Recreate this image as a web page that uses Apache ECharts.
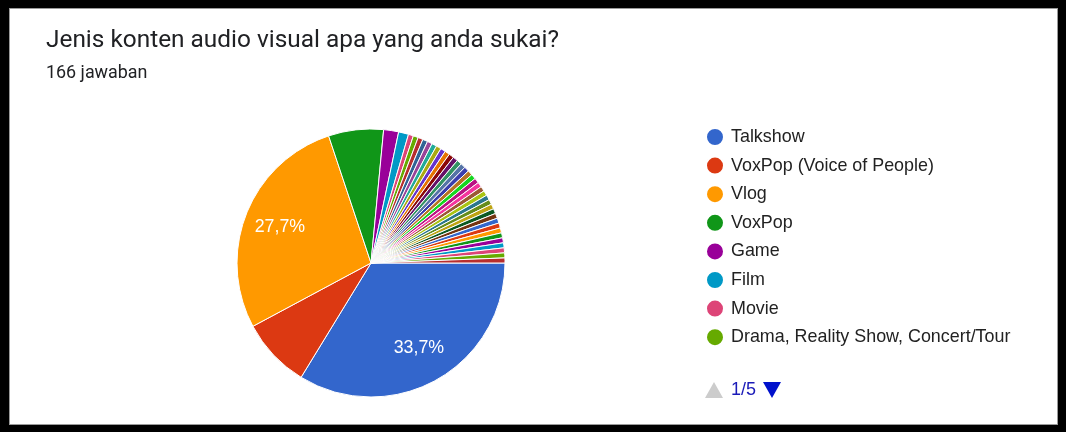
<!DOCTYPE html>
<html>
<head>
<meta charset="utf-8">
<title>Jenis konten audio visual</title>
<script src="https://cdn.jsdelivr.net/npm/echarts@6/dist/echarts.min.js"></script>
<style>
  html, body { margin: 0; padding: 0; background: #fff; }
  #chart { position: absolute; left: 0; top: 0; width: 1066px; height: 432px; }
  #frame {
    position: absolute; left: 0; top: 0; width: 1066px; height: 432px;
    box-sizing: border-box; pointer-events: none;
    border-style: solid; border-color: #000;
    border-width: 8px 8px 7px 9px;
    box-shadow: inset 0 0 0 1px #9a9a9a;
  }
</style>
</head>
<body>
<div id="chart"></div>
<div id="frame"></div>
<script>
// Survey question and answer count
const questionTitle = 'Jenis konten audio visual apa yang anda sukai?';
const answerCount = '166 jawaban';

// Answer options, in form order
const categories = [
  'Talkshow', 'VoxPop (Voice of People)', 'Vlog', 'VoxPop', 'Game', 'Film', 'Movie',
  'Drama, Reality Show, Concert/Tour',
  'Podcast', 'Musik', 'Tutorial', 'Dokumenter', 'Animasi', 'Berita', 'Kuliner', 'Travel',
  'Komedi', 'Review Produk', 'Edukasi', 'Olahraga', 'Sinetron', 'Anime', 'Drama Korea', 'Horor',
  'Prank', 'Mukbang', 'Beauty', 'Fashion', 'Live Streaming', 'Cover Lagu', 'Short Film', 'Web Series',
  'Stand Up Comedy', 'Unboxing', 'Sains', 'Otomotif', 'Sejarah', 'Kajian', 'Reaction', 'Lainnya'
];

// Number of respondents choosing each option
const responses = [
  56, 14, 46, 11, 3, 2, 1, 1,
  1, 1, 1, 1, 1, 1, 1, 1,
  1, 1, 1, 1, 1, 1, 1, 1,
  1, 1, 1, 1, 1, 1, 1, 1,
  1, 1, 1, 1, 1, 1, 1, 1
];

// Slice palette (cycles when there are more answers than colours)
const palette = [
  '#3366cc', '#dc3912', '#ff9900', '#109618', '#990099', '#0099c6', '#dd4477', '#66aa00',
  '#b82e2e', '#316395', '#994499', '#22aa99', '#aaaa11', '#6633cc', '#e67300', '#8b0707',
  '#651067', '#329262', '#5574a6', '#3b3eac', '#b77322', '#16d620', '#b91383', '#f4359e',
  '#9c5935', '#a9c413', '#2a778d', '#668d1c', '#bea413', '#0c5922', '#743411'
];

const perPage = 8;
const pageCount = Math.ceil(categories.length / perPage);
let page = 0;

const total = responses.reduce((a, b) => a + b, 0);
const pieData = categories.map((name, i) => ({ name: name, value: responses[i] }));

const center = [371, 263];
const radius = 134;
const labelFont = 'Liberation Sans, Arial, sans-serif';

function pagerGraphic() {
  const upActive = page > 0;
  const downActive = page < pageCount - 1;
  return [{
    id: 'pager', type: 'group', left: 705, top: 381,
    children: [
      {
        id: 'pgUp', type: 'polygon',
        shape: { points: [[0, 16], [18, 16], [9, 0]] },
        style: { fill: upActive ? '#0011cc' : '#cccccc' },
        onclick: () => { if (page > 0) { page--; refreshLegend(); } }
      },
      {
        id: 'pgText', type: 'text', x: 26, y: 8,
        style: {
          text: (page + 1) + '/' + pageCount, fill: '#1a1ab8',
          font: '18px ' + labelFont, verticalAlign: 'middle'
        }
      },
      {
        id: 'pgDown', type: 'polygon',
        shape: { points: [[58, 0], [76, 0], [67, 16]] },
        style: { fill: downActive ? '#0011cc' : '#cccccc' },
        onclick: () => { if (page < pageCount - 1) { page++; refreshLegend(); } }
      }
    ]
  }];
}

const chart = echarts.init(document.getElementById('chart'), null, { renderer: 'canvas' });

function refreshLegend() {
  chart.setOption({
    legend: { data: categories.slice(page * perPage, page * perPage + perPage) },
    graphic: pagerGraphic()
  });
}

chart.setOption({
  animation: false,
  backgroundColor: '#ffffff',
  color: palette,
  title: [
    {
      text: questionTitle, left: 41, top: 24,
      textStyle: { fontFamily: 'Roboto', fontSize: 24.4, fontWeight: 'normal', color: '#202124' }
    },
    {
      text: answerCount, left: 41, top: 60,
      textStyle: { fontFamily: 'Roboto', fontSize: 17.9, fontWeight: 'normal', color: '#202124' }
    }
  ],
  tooltip: { trigger: 'item', formatter: p => p.name + ': ' + p.value + ' (' + (p.value / total * 100).toFixed(1).replace('.', ',') + '%)' },
  legend: {
    type: 'plain', orient: 'vertical', left: 705, top: 127, padding: 0,
    icon: 'circle', itemWidth: 18, itemHeight: 18, itemGap: 8.6,
    data: categories.slice(0, perPage),
    textStyle: { fontFamily: labelFont, fontSize: 17.9, color: '#222222', padding: [0, 0, 0, 2] }
  },
  graphic: pagerGraphic(),
  series: [
    {
      name: 'Jawaban', type: 'pie',
      center: center, radius: [0, radius],
      startAngle: 0, clockwise: true,
      data: pieData,
      label: { show: false }, labelLine: { show: false },
      itemStyle: { borderColor: '#ffffff', borderWidth: 1 },
      emphasis: { scale: false }
    },
    {
      // Percentage labels for the larger slices, placed partway out along each slice
      name: 'Persentase', type: 'pie', silent: true, z: 5,
      center: center, radius: [56, radius],
      startAngle: 0, clockwise: true,
      data: pieData,
      itemStyle: { color: 'rgba(0,0,0,0)', borderWidth: 0 },
      label: {
        show: true, position: 'inside',
        color: '#ffffff', fontFamily: labelFont, fontSize: 17.8,
        formatter: p => {
          const pct = p.value / total * 100;
          return pct >= 10 ? pct.toFixed(1).replace('.', ',') + '%' : '';
        }
      },
      labelLine: { show: false },
      tooltip: { show: false },
      emphasis: { disabled: true }
    }
  ]
});
</script>
</body>
</html>
